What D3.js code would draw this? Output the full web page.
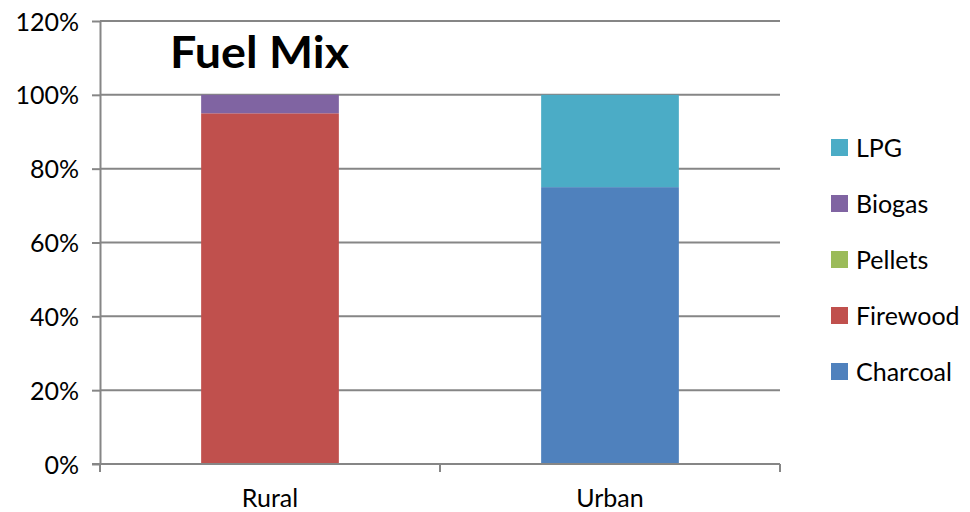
<!DOCTYPE html>
<html>
<head>
<meta charset="utf-8">
<script src="https://cdn.jsdelivr.net/npm/d3@7"></script>
<style>
  html, body { margin: 0; padding: 0; background: #fff; }
  svg { display: block; }
  text { font-family: Lato, "Open Sans", sans-serif; fill: #000; }
</style>
</head>
<body>
<svg id="chart" width="970" height="512"></svg>
<script>
// Share of households by main cooking fuel
const categories = ["Rural", "Urban"];
const seriesNames = ["Charcoal", "Firewood", "Pellets", "Biogas", "LPG"];
const charcoal = [0.00, 0.75];
const firewood = [0.95, 0.00];
const pellets  = [0.00, 0.00];
const biogas   = [0.05, 0.00];
const lpg      = [0.00, 0.25];
const yTicks = [0, 0.2, 0.4, 0.6, 0.8, 1.0, 1.2];
const colors = ["#4F81BD", "#C0504D", "#9BBB59", "#8064A2", "#4BACC6"];

const seriesValues = [charcoal, firewood, pellets, biogas, lpg];
const rows = categories.map((c, i) => {
  const r = { category: c };
  seriesNames.forEach((s, k) => r[s] = seriesValues[k][i]);
  return r;
});

const svg = d3.select("#chart");
const plotLeft = 100, plotRight = 780, plotTop = 21, plotBottom = 464;
const gridColor = "#868686";
const labelSize = "25px";

const x = d3.scaleBand().domain(categories).range([plotLeft, plotRight]).padding(0);
const y = d3.scaleLinear().domain([0, 1.2]).range([plotBottom, plotTop]);
const color = d3.scaleOrdinal().domain(seriesNames).range(colors);

// horizontal gridlines
svg.append("g").selectAll("line")
  .data(yTicks.filter(t => t > 0))
  .join("line")
  .attr("x1", plotLeft).attr("x2", plotRight)
  .attr("y1", d => y(d)).attr("y2", d => y(d))
  .attr("stroke", gridColor).attr("stroke-width", 2);

// stacked bars
const stack = d3.stack().keys(seriesNames)(rows);
const barW = x.bandwidth() * 0.405;
svg.append("g").selectAll("g")
  .data(stack)
  .join("g")
  .attr("fill", d => color(d.key))
  .selectAll("rect")
  .data(d => d)
  .join("rect")
  .attr("x", d => x(d.data.category) + x.bandwidth() / 2 - barW / 2)
  .attr("width", barW)
  .attr("y", d => y(d[1]))
  .attr("height", d => y(d[0]) - y(d[1]));

// y axis
const yAxis = svg.append("g")
  .attr("transform", `translate(${plotLeft},0)`)
  .call(d3.axisLeft(y).tickValues(yTicks).tickFormat(d3.format(".0%")).tickSize(8).tickSizeOuter(0));
yAxis.select(".domain").attr("stroke", gridColor).attr("stroke-width", 2);
yAxis.selectAll(".tick line").attr("stroke", gridColor).attr("stroke-width", 2);
yAxis.selectAll(".tick text")
  .attr("x", -21)
  .attr("dy", "0.36em")
  .style("font-size", labelSize)
  .style("font-family", "Lato, 'Open Sans', sans-serif")
  .attr("fill", "#000");

// x axis with tick marks at band boundaries
const xAxisG = svg.append("g").attr("transform", `translate(0,${plotBottom})`);
xAxisG.append("line")
  .attr("x1", plotLeft - 8).attr("x2", plotRight)
  .attr("stroke", gridColor).attr("stroke-width", 2);
const boundaries = categories.map(c => x(c)).concat([x(categories[categories.length - 1]) + x.bandwidth()]);
xAxisG.selectAll("line.b")
  .data(boundaries)
  .join("line")
  .attr("class", "b")
  .attr("x1", d => d).attr("x2", d => d)
  .attr("y1", 0).attr("y2", 8)
  .attr("stroke", gridColor).attr("stroke-width", 2);
xAxisG.selectAll("text")
  .data(categories)
  .join("text")
  .attr("x", d => x(d) + x.bandwidth() / 2)
  .attr("y", 43)
  .attr("text-anchor", "middle")
  .style("font-size", labelSize)
  .text(d => d);

// title
svg.append("text")
  .attr("x", 170).attr("y", 68)
  .style("font-size", "44px")
  .style("font-weight", "bold")
  .attr("textLength", 179)
  .attr("lengthAdjust", "spacingAndGlyphs")
  .text("Fuel Mix");

// legend, top entry is the last series
const legendItems = seriesNames.slice().reverse();
const lg = svg.append("g").selectAll("g")
  .data(legendItems)
  .join("g")
  .attr("transform", (d, i) => `translate(831,${147.5 + i * 56})`);
lg.append("rect")
  .attr("x", 0).attr("y", -8.5)
  .attr("width", 17).attr("height", 17)
  .attr("fill", d => color(d));
lg.append("text")
  .attr("x", 25).attr("y", 9)
  .style("font-size", labelSize)
  .text(d => d);
</script>
</body>
</html>
